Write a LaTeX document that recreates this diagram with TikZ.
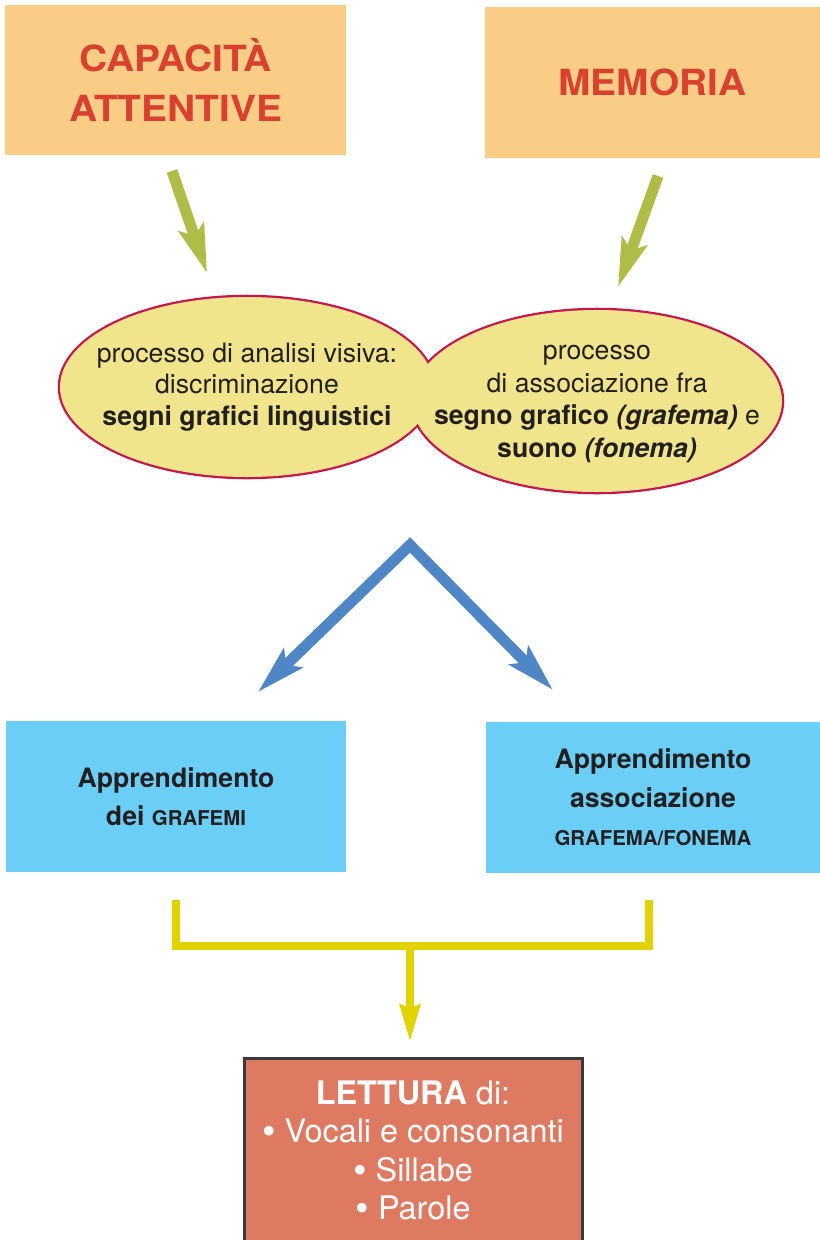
\documentclass[tikz,border=0pt]{standalone}
\usepackage{fontspec}
\setmainfont{TeX Gyre Heros}
\newfontfamily\largo{TeX Gyre Heros}[FakeStretch=1.08]
\usetikzlibrary{arrows.meta}
\definecolor{arancio}{HTML}{F9CD85}
\definecolor{rosso}{HTML}{D8402F}
\definecolor{verde}{HTML}{AEBD47}
\definecolor{giallino}{HTML}{F0E58D}
\definecolor{cremisi}{HTML}{C8164A}
\definecolor{blu}{HTML}{4F86C6}
\definecolor{celeste}{HTML}{6BCEF6}
\definecolor{giallo}{HTML}{E2D200}
\definecolor{salmone}{HTML}{DE7A62}
\definecolor{cornice}{HTML}{3A3A3A}
\definecolor{nero}{HTML}{231F20}
\newcommand{\pxu}{0.75pt}
\newcommand{\maiu}[1]{{\fontsize{15.3}{28.5}\selectfont\bfseries #1}}
\newcommand{\pallino}{{\fontsize{29}{0}\selectfont\raisebox{-1.5pt}{\textbullet}}}
\tikzset{
  testata/.style={fill=arancio, text=rosso, align=center, inner sep=0pt,
    font=\largo\fontsize{27}{37.5}\selectfont\bfseries},
  riquadro/.style={fill=celeste, text=nero, align=center, inner sep=0pt,
    font=\fontsize{20}{28.8}\selectfont\bfseries},
  bolla/.style={align=center, text=nero, inner sep=0pt,
    font=\fontsize{20}{23.5}\selectfont},
  frecciaverde/.style={draw=verde, line width=8.25pt,
    -{Stealth[length=36pt, width=19.5pt, inset=7pt]}},
  frecciablu/.style={draw=blu, line width=8.25pt, line join=miter,
    {Stealth[length=36pt, width=19.5pt, inset=7pt]}-{Stealth[length=36pt, width=19.5pt, inset=7pt]}},
  raccordo/.style={draw=giallo, line width=6pt, line join=miter},
}
\begin{document}
\begin{tikzpicture}[x=0.75pt, y=-0.75pt]
\useasboundingbox (0,0) rectangle (820,1240);
\clip (0,0) rectangle (820,1240);
\fill[white] (0,0) rectangle (820,1240);
% riquadri in alto
\node[testata, minimum width=341*\pxu, minimum height=150*\pxu] (capacita) at (175.5,80) {CAPACITÀ\\ATTENTIVE};
\node[testata, minimum width=335*\pxu, minimum height=151*\pxu] (memoria) at (652.5,82.5) {MEMORIA};
\path
(172,171)coordinate(V1)
(207,273)coordinate(V1')
(658,176)coordinate(V2)
(618,287)coordinate(V2')
(410,545)coordinate(B)
(258,692)coordinate(B1)
(553,690)coordinate(B2)
;
\draw[frecciaverde] (V1)--(V1');
\draw[frecciaverde] (V2)--(V2');
% le due bolle
\draw[cremisi, line width=3.4pt] (247,387) ellipse [x radius=187, y radius=90] (597,401) ellipse [x radius=185, y radius=91];
\fill[giallino] (247,387) ellipse [x radius=187, y radius=90] (597,401) ellipse [x radius=185, y radius=91];
\node[bolla] (analisi) at (247,387) {processo di analisi visiva:\\discriminazione\\\textbf{segni grafici linguistici}};
\node[bolla, font=\fontsize{20}{24.3}\selectfont] (associazione) at (597,404) {processo\\di associazione fra\\\textbf{segno grafico \textit{(grafema)}} e\\\textbf{suono \textit{(fonema)}}};
\draw[frecciablu] (B1)--(B)--(B2);
% apprendimento
\node[riquadro, minimum width=340*\pxu, minimum height=151*\pxu] (grafemi) at (176,796.5) {Apprendimento\\dei \maiu{GRAFEMI}};
\node[riquadro, minimum width=334*\pxu, minimum height=151*\pxu] (fonemi) at (653,797.5) {Apprendimento\\associazione\\\maiu{GRAFEMA/FONEMA}};
\path
(176,900)coordinate(G1)
(176,946)coordinate(G2)
(649,946)coordinate(G3)
(649,900)coordinate(G4)
(410,946)coordinate(G5)
(410,1042)coordinate(G6)
;
\draw[raccordo] (G1)--(G2)--(G3)--(G4);
\draw[raccordo, -{Stealth[length=27.5pt, width=14.6pt, inset=2pt]}] (G5)--(G6);
% lettura
\node[fill=salmone, draw=cornice, line width=2.25pt, minimum width=338*\pxu, minimum height=188*\pxu] (cornicetta) at (413,1152) {};
\node[align=center, text=white, font=\fontsize{24.3}{28.8}\selectfont] (lettura) at (413,1151) {\textbf{LETTURA} di:\\\pallino\ Vocali e consonanti\\\pallino\ Sillabe\\\pallino\ Parole};
\end{tikzpicture}
\end{document}
